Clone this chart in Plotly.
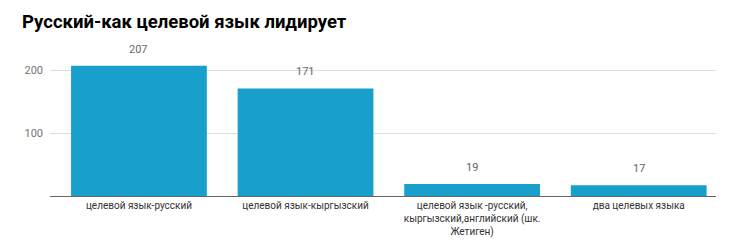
import plotly.graph_objects as go

categories = [
    "целевой язык-русский",
    "целевой язык-кыргызский",
    "целевой язык -русский,<br>кыргызский,английский (шк.<br>Жетиген)",
    "два целевых языка",
]
values = [207, 171, 19, 17]
y_ticks = [100, 200]

fig = go.Figure(
    go.Bar(
        x=categories,
        y=values,
        width=0.815,
        marker=dict(color="#189fcc", line=dict(width=0)),
    )
)

for c, v in zip(categories, values):
    fig.add_annotation(
        x=c, y=v, text=str(v), showarrow=False,
        yanchor="bottom", yshift=8,
        font=dict(family="Roboto, Arial, sans-serif", size=11, color="#666666"),
    )

fig.update_layout(
    width=730,
    height=242,
    margin=dict(l=50, r=14, t=45, b=46),
    paper_bgcolor="white",
    plot_bgcolor="white",
    showlegend=False,
    title=dict(
        text="<b>Русский-как целевой язык лидирует</b>",
        x=22 / 730,
        xanchor="left",
        y=1 - 22 / 242,
        yanchor="middle",
        font=dict(family="Roboto, Arial, sans-serif", size=18.5, color="#000000"),
    ),
    xaxis=dict(
        range=[-0.534, 3.464],
        tickfont=dict(family="Roboto, Arial, sans-serif", size=10, color="#333333"),
        showgrid=False,
        showline=True,
        linecolor="#666666",
        linewidth=1,
        ticks="",
        automargin=False,
    ),
    yaxis=dict(
        range=[0, 240],
        tickvals=y_ticks,
        tickfont=dict(family="Roboto, Arial, sans-serif", size=11, color="#757575"),
        showgrid=True,
        gridcolor="#dddddd",
        zeroline=False,
        showline=False,
        ticks="",
        ticklabelstandoff=6,
        automargin=False,
    ),
)

fig.write_html("out.html")
